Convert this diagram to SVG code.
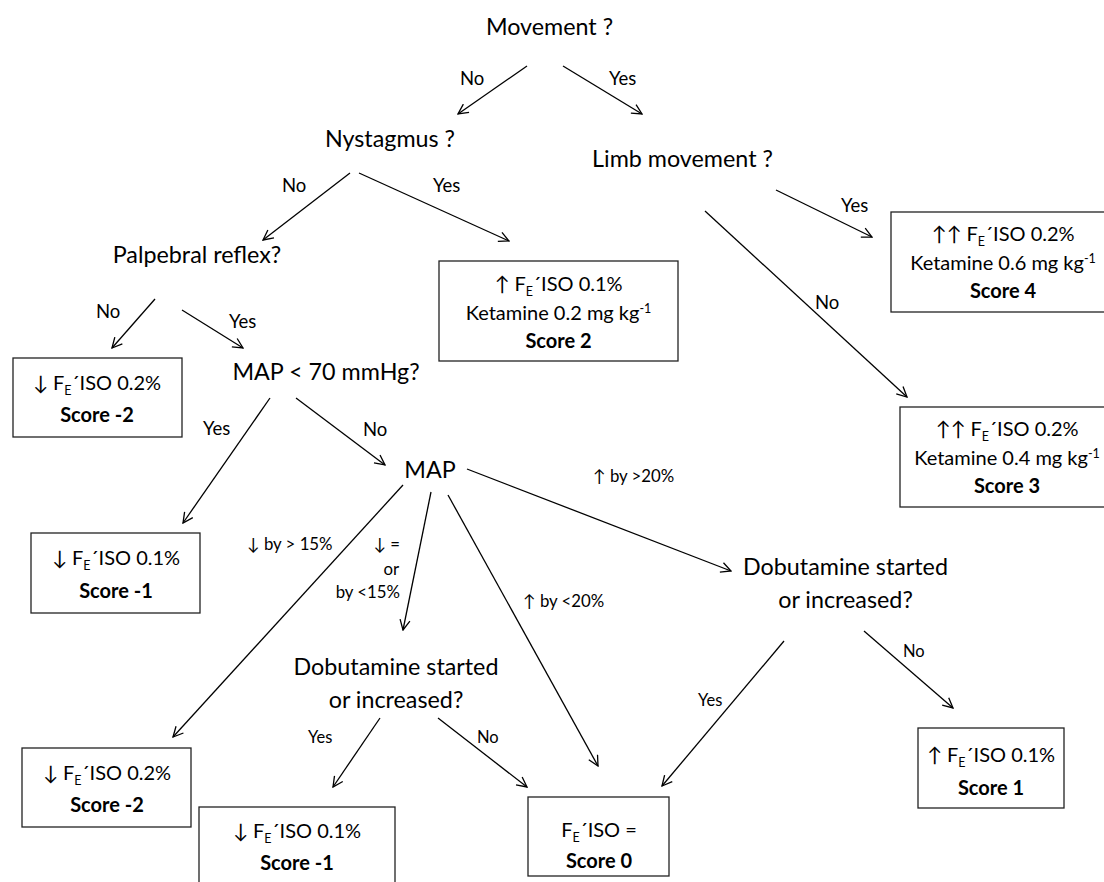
<svg xmlns="http://www.w3.org/2000/svg" width="1104" height="882" viewBox="0 0 1104 882">
<defs>
<style>
text{font-family:Lato,"Open Sans","DejaVu Sans",sans-serif;fill:#000}
.q{font-size:23.3px;text-anchor:middle}
.b{font-size:20px;text-anchor:middle}
.bb{font-size:20px;text-anchor:middle;font-weight:bold}
.e{font-size:18.5px}
.e2{font-size:16.5px}
.s{font-size:16.8px}
.end{text-anchor:end}
.sub{font-size:12.5px}
.box{fill:#fff;stroke:#222;stroke-width:1.3}
.c line{stroke:#000;stroke-width:1.3;marker-end:url(#ah)}
</style>
<marker id="ah" viewBox="0 0 12 12" refX="11" refY="6" markerWidth="12" markerHeight="12" markerUnits="userSpaceOnUse" orient="auto">
<path d="M1,1 L11,6 L1,11" fill="none" stroke="#000" stroke-width="1.3"/>
</marker>
</defs>
<rect width="1104" height="882" fill="#fff"/>

<g id="connectors" class="c">
<line x1="527" y1="66" x2="458" y2="114"/>
<line x1="563" y1="66" x2="642" y2="114"/>
<line x1="350" y1="173" x2="263" y2="240"/>
<line x1="359" y1="173" x2="509" y2="241"/>
<line x1="155" y1="299" x2="112" y2="348"/>
<line x1="182" y1="310" x2="243" y2="348"/>
<line x1="776" y1="190" x2="872" y2="237"/>
<line x1="705" y1="211" x2="907" y2="397"/>
<line x1="270" y1="398" x2="183" y2="523"/>
<line x1="296" y1="398" x2="385" y2="465"/>
<line x1="403" y1="485" x2="173" y2="737"/>
<line x1="431" y1="492" x2="403" y2="630"/>
<line x1="448" y1="495" x2="598" y2="766"/>
<line x1="467" y1="469" x2="731" y2="571"/>
<line x1="380" y1="718" x2="333" y2="787"/>
<line x1="438" y1="718" x2="527" y2="787"/>
<line x1="784" y1="641" x2="662" y2="786"/>
<line x1="864" y1="631" x2="953" y2="708"/>
</g>

<g id="edge-labels">
<text class="e" x="460" y="85">No</text>
<text class="e" x="609" y="85">Yes</text>
<text class="e" x="282" y="192">No</text>
<text class="e" x="433" y="192">Yes</text>
<text class="e" x="96" y="318">No</text>
<text class="e" x="229" y="328">Yes</text>
<text class="e" x="841" y="212">Yes</text>
<text class="e" x="815" y="309">No</text>
<text class="e" x="203" y="435">Yes</text>
<text class="e" x="363" y="436">No</text>
<text class="s" x="247" y="550">↓ by &gt; 15%</text>
<text class="s end" x="400" y="550">↓ =</text>
<text class="s end" x="399" y="575">or</text>
<text class="s end" x="400" y="598">by &lt;15%</text>
<text class="s" x="593" y="482">↑ by &gt;20%</text>
<text class="s" x="523" y="607">↑ by &lt;20%</text>
<text class="e2" x="308" y="743">Yes</text>
<text class="e2" x="477" y="743">No</text>
<text class="e2" x="698" y="706">Yes</text>
<text class="e2" x="903" y="657">No</text>
</g>

<g id="q-movement"><text class="q" x="549.5" y="35">Movement ?</text></g>
<g id="q-nystagmus"><text class="q" x="390" y="147">Nystagmus ?</text></g>
<g id="q-limb"><text class="q" x="682.5" y="167">Limb movement ?</text></g>
<g id="q-palpebral"><text class="q" x="197" y="263">Palpebral reflex?</text></g>
<g id="q-map70"><text class="q" x="326" y="380">MAP &lt; 70 mmHg?</text></g>
<g id="q-map"><text class="q" x="430" y="478">MAP</text></g>
<g id="q-dob-left"><text class="q" x="396" y="675">Dobutamine started</text><text class="q" x="396" y="708">or increased?</text></g>
<g id="q-dob-right"><text class="q" x="845.5" y="575">Dobutamine started</text><text class="q" x="845.5" y="608">or increased?</text></g>

<g id="box-score2">
<rect class="box" x="439" y="261" width="239" height="100"/>
<text class="b" x="558.5" y="291">↑ F<tspan class="sub" dy="5">E</tspan><tspan dy="-5">´ISO 0.1%</tspan></text>
<text class="b" x="558.5" y="320">Ketamine 0.2 mg kg<tspan class="sub" dy="-7">-1</tspan></text>
<text class="bb" x="558.5" y="348">Score 2</text>
</g>
<g id="box-score4">
<rect class="box" x="891" y="212" width="224" height="100"/>
<text class="b" x="1003" y="241">↑↑ F<tspan class="sub" dy="5">E</tspan><tspan dy="-5">´ISO 0.2%</tspan></text>
<text class="b" x="1003" y="270">Ketamine 0.6 mg kg<tspan class="sub" dy="-7">-1</tspan></text>
<text class="bb" x="1003" y="298">Score 4</text>
</g>
<g id="box-score3">
<rect class="box" x="900" y="407" width="214" height="100"/>
<text class="b" x="1007" y="436">↑↑ F<tspan class="sub" dy="5">E</tspan><tspan dy="-5">´ISO 0.2%</tspan></text>
<text class="b" x="1007" y="465">Ketamine 0.4 mg kg<tspan class="sub" dy="-7">-1</tspan></text>
<text class="bb" x="1007" y="493">Score 3</text>
</g>
<g id="box-scoreminus2-top">
<rect class="box" x="13" y="358" width="169" height="79"/>
<text class="b" x="97" y="390">↓ F<tspan class="sub" dy="5">E</tspan><tspan dy="-5">´ISO 0.2%</tspan></text>
<text class="bb" x="97" y="422">Score -2</text>
</g>
<g id="box-scoreminus1-left">
<rect class="box" x="31" y="533" width="169" height="80"/>
<text class="b" x="116" y="565">↓ F<tspan class="sub" dy="5">E</tspan><tspan dy="-5">´ISO 0.1%</tspan></text>
<text class="bb" x="116" y="598">Score -1</text>
</g>
<g id="box-scoreminus2-bottom">
<rect class="box" x="22" y="748" width="169" height="79"/>
<text class="b" x="107" y="780">↓ F<tspan class="sub" dy="5">E</tspan><tspan dy="-5">´ISO 0.2%</tspan></text>
<text class="bb" x="107" y="812">Score -2</text>
</g>
<g id="box-scoreminus1-bottom">
<rect class="box" x="199" y="807" width="196" height="100"/>
<text class="b" x="297" y="838">↓ F<tspan class="sub" dy="5">E</tspan><tspan dy="-5">´ISO 0.1%</tspan></text>
<text class="bb" x="297" y="870">Score -1</text>
</g>
<g id="box-score0">
<rect class="box" x="528" y="797" width="141" height="79"/>
<text class="b" x="599" y="837">F<tspan class="sub" dy="5">E</tspan><tspan dy="-5">´ISO =</tspan></text>
<text class="bb" x="599" y="868">Score 0</text>
</g>
<g id="box-score1">
<rect class="box" x="918" y="728" width="146" height="80"/>
<text class="b" x="991" y="762">↑ F<tspan class="sub" dy="5">E</tspan><tspan dy="-5">´ISO 0.1%</tspan></text>
<text class="bb" x="991" y="795">Score 1</text>
</g>
</svg>
